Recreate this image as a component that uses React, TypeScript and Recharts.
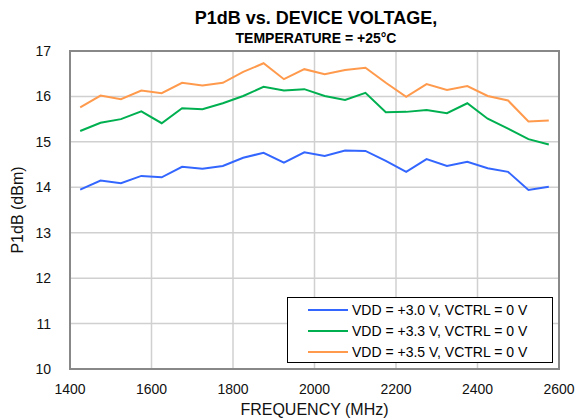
import { LineChart, Line, XAxis, YAxis, CartesianGrid, ReferenceArea } from "recharts";

const frequencies = [
  1425, 1475, 1525, 1575, 1625, 1675, 1725, 1775, 1825, 1875, 1925, 1975,
  2025, 2075, 2125, 2175, 2225, 2275, 2325, 2375, 2425, 2475, 2525, 2575,
];
const vdd30 = [
  13.95, 14.15, 14.09, 14.25, 14.22, 14.45, 14.41, 14.47, 14.65, 14.76, 14.54, 14.77,
  14.69, 14.81, 14.8, 14.58, 14.34, 14.62, 14.47, 14.56, 14.42, 14.34, 13.94, 14.01,
];
const vdd33 = [
  15.24, 15.42, 15.5, 15.67, 15.41, 15.74, 15.72, 15.85, 16.01, 16.21, 16.13, 16.16,
  16.01, 15.92, 16.08, 15.65, 15.66, 15.7, 15.63, 15.85, 15.51, 15.29, 15.06, 14.94,
];
const vdd35 = [
  15.76, 16.02, 15.94, 16.13, 16.07, 16.3, 16.24, 16.3, 16.54, 16.73, 16.38, 16.6,
  16.49, 16.58, 16.63, 16.3, 15.99, 16.27, 16.14, 16.23, 16.01, 15.91, 15.45, 15.47,
];
const xTicks = [1400, 1600, 1800, 2000, 2200, 2400, 2600];
const yTicks = [10, 11, 12, 13, 14, 15, 16, 17];

const series = [
  { key: "v30", name: "VDD = +3.0 V, VCTRL = 0 V", color: "#3366FF" },
  { key: "v33", name: "VDD = +3.3 V, VCTRL = 0 V", color: "#00B050" },
  { key: "v35", name: "VDD = +3.5 V, VCTRL = 0 V", color: "#FF9A4D" },
];

const data = frequencies.map((f, i) => ({ f, v30: vdd30[i], v33: vdd33[i], v35: vdd35[i] }));

const font = "'Liberation Sans', Arial, sans-serif";

function LegendBox() {
  return (
    <div
      style={{
        position: "absolute",
        left: 287,
        top: 297,
        border: "1px solid #000",
        background: "#fff",
        width: 266,
        height: 66,
        boxSizing: "border-box",
        padding: "1px 0 0 20px",
        fontFamily: font,
        fontSize: 14,
        color: "#000",
      }}
    >
      {series.map((s) => (
        <div key={s.key} style={{ display: "flex", alignItems: "center", height: 21 }}>
          <div style={{ width: 40, height: 2, background: s.color, marginRight: 4 }} />
          <span>{s.name}</span>
        </div>
      ))}
    </div>
  );
}

export default function App() {
  return (
    <div style={{ position: "fixed", left: 0, top: 0, width: 579, height: 420, background: "#fff", fontFamily: font }}>
      <div style={{ position: "absolute", top: 8, left: 0, width: 632, textAlign: "center", fontWeight: "bold", fontSize: 18 }}>
        P1dB vs. DEVICE VOLTAGE,
      </div>
      <div style={{ position: "absolute", top: 30, left: 0, width: 632, textAlign: "center", fontWeight: "bold", fontSize: 14 }}>
        TEMPERATURE = +25°C
      </div>
      <LineChart width={579} height={420} data={data} margin={{ top: 51, right: 20, bottom: 21, left: 10 }}>
        <CartesianGrid stroke="#d0d0d0" strokeWidth={1.5} />
        <XAxis
          dataKey="f"
          type="number"
          domain={[1400, 2600]}
          ticks={xTicks}
          tickLine={false}
          axisLine={false}
          height={30}
          tick={{ fill: "#111", fontSize: 14, fontFamily: font }}
          tickMargin={9}
          label={{ value: "FREQUENCY (MHz)", position: "insideBottom", offset: -16, fill: "#111", fontSize: 16, fontFamily: font }}
        />
        <YAxis
          type="number"
          domain={[10, 17]}
          ticks={yTicks}
          tickLine={false}
          axisLine={false}
          width={60}
          tick={{ fill: "#111", fontSize: 14, fontFamily: font }}
          tickMargin={13}
          label={{ value: "P1dB (dBm)", angle: -90, position: "insideLeft", offset: 7, fill: "#111", fontSize: 16, fontFamily: font, style: { textAnchor: "middle" } }}
        />
        <ReferenceArea x1={1400} x2={2600} y1={10} y2={17} fill="none" stroke="#888" strokeWidth={2} ifOverflow="visible" />
        {series.map((s) => (
          <Line
            key={s.key}
            dataKey={s.key}
            name={s.name}
            stroke={s.color}
            strokeWidth={2}
            dot={false}
            isAnimationActive={false}
          />
        ))}
      </LineChart>
      <LegendBox />
    </div>
  );
}
